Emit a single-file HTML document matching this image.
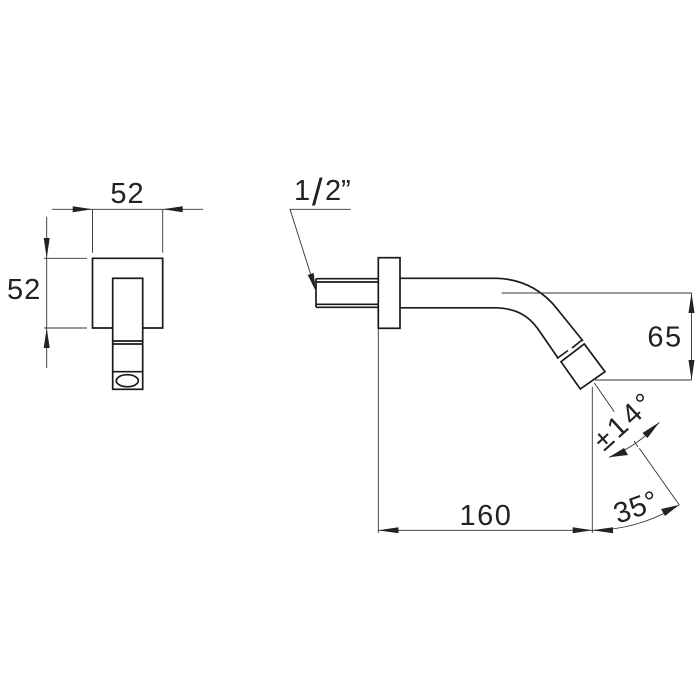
<!DOCTYPE html>
<html>
<head>
<meta charset="utf-8">
<style>
html,body{margin:0;padding:0;background:#fff;}
svg{display:block;}
text{font-family:"Liberation Sans",sans-serif;font-size:29px;fill:#222;}
</style>
</head>
<body>
<svg width="700" height="700" viewBox="0 0 700 700" xmlns="http://www.w3.org/2000/svg">
<rect width="700" height="700" fill="#fff"/>

<!-- thick object lines -->
<g fill="none" stroke="#1a1a1a" stroke-width="1.7">
  <!-- front view -->
  <path d="M112.7 328H92.5V258.3H162.7V328H142.7"/>
  <rect x="112.7" y="278.3" width="30" height="111"/>
  <path d="M112.7 341H142.7M112.7 344H142.7M112.7 371.7H142.7"/>
  <ellipse cx="127.3" cy="380.7" rx="11" ry="6"/>
  <!-- side view -->
  <rect x="378.3" y="257.7" width="21.7" height="70.6"/>
  <path d="M316 278.7H378.3M316 282H378.3M316 304.3H378.3M316 307.3H378.3M316 278.7V307.3"/>
  <path d="M400 278.3H496.7C525 279 545 293 558 310L583 341"/>
  <path d="M400 307.8H497C515 308.5 528 315 538 329L558 358"/>
  <path d="M557 358.5L568 350.5M572 348L582 340"/>
  <path d="M561 361.7L584.3 344L605 371.7L580.3 389Z"/>
</g>

<!-- thin dimension lines -->
<g fill="none" stroke="#333" stroke-width="0.9">
  <path d="M52 209.3H203M92.5 209.3V252.7M162.7 209.3V252.7"/>
  <path d="M46.7 216.7V368M44 258.3H87M44 328H87"/>
  <path d="M350.7 209.3H290L316 291"/>
  <path d="M378.3 328V533"/>
  <path d="M501.7 293H691.5M595 380H691.5M691.5 293V380"/>
  <path d="M592.3 386.7V533M594.3 383L614.3 411.7M639.3 448.3L679.3 505"/>
  <path d="M378.3 530.3H592.3"/>
  <path d="M592.3 530.3C626 530 655 520 679 505"/>
  <path d="M609 457.3C628 450 645 438 659.3 422.3"/>
  <path d="M634 441L638 447"/>
</g>

<!-- arrowheads -->
<g fill="#222" stroke="none">
  <path d="M92.5 209.3L72.7 206.3V212.3Z"/>
  <path d="M162.7 209.3L182.7 206.3V212.3Z"/>
  <path d="M46.7 258.3L43.7 238H49.7Z"/>
  <path d="M46.7 328L43.7 348H49.7Z"/>
  <path d="M316 291.5L307.7 275L313.7 273Z"/>
  <path d="M691.5 293L688.5 313H694.5Z"/>
  <path d="M691.5 380L688.5 360H694.5Z"/>
  <path d="M378.3 530.3L398.5 527.3V533.3Z"/>
  <path d="M592.3 530.3L572.7 527.3V533.3Z"/>
  <path d="M592.3 530.3L613 527.3V533.3Z"/>
  <path d="M679 505L661 509L665 516Z"/>
  <path d="M609 457.3L624 448L628 455Z"/>
  <path d="M659.3 422.3L647.5 438L642.5 433Z"/>
</g>

<!-- labels -->
<text x="127.5" y="203" text-anchor="middle" letter-spacing="1">52</text>
<text x="7" y="299" letter-spacing="1">52</text>
<text><tspan x="294" y="200">1</tspan><tspan x="312" y="205" style="font-size:38px">/</tspan><tspan x="325" y="200">2</tspan><tspan x="341" y="200">”</tspan></text>
<text x="665" y="346.5" text-anchor="middle" letter-spacing="1.5">65</text>
<text x="486" y="525" text-anchor="middle" letter-spacing="1.5">160</text>
<text transform="translate(604,452) rotate(-42)" letter-spacing="3">±14°</text>
<text transform="translate(618,524) rotate(-20)" letter-spacing="0.5">35°</text>
</svg>
</body>
</html>
